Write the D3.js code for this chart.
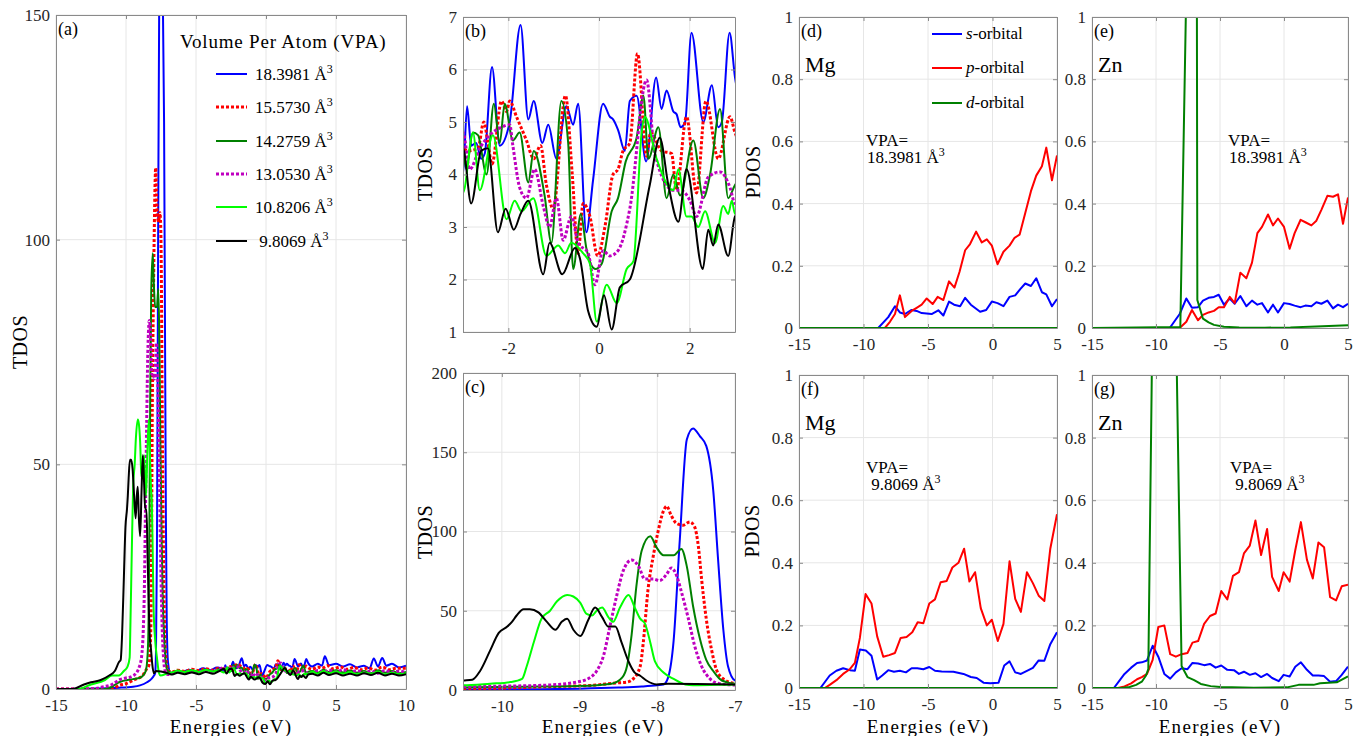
<!DOCTYPE html>
<html>
<head>
<meta charset="utf-8">
<script src="https://cdn.jsdelivr.net/npm/d3@7"></script>
<style>
  body { margin: 0; background: #fff; }
  svg text { font-family: "Liberation Serif", "Tinos", "Times New Roman", "DejaVu Serif", serif !important; white-space: pre; }
</style>
</head>
<body>
<script>
// ---------- Total DOS, one array of [energy (eV), TDOS] per volume per atom ----------
const tdos18 = [[-15,0],[-10.5,0.3],[-9.5,0.5],[-9,0.8],[-8.5,1.5],[-8.2,2.2],[-8,3],[-7.92,3.5],[-7.86,8],[-7.79,31],[-7.71,95],[-7.62,158],[-7.54,165],[-7.45,160],[-7.37,154],[-7.28,126],[-7.22,84],[-7.15,38],[-7.09,15],[-7.0,6],
  [-6.8,3.4],[-6.5,4.0],[-6.0,3.8],[-5.5,4.3],[-5.0,4.0],[-4.5,4.6],[-4.0,4.2],[-3.5,4.8],[-3.2,4.5],
  [-3,4.0],[-2.91,5.3],[-2.82,4.55],[-2.71,4.6],[-2.6,4.3],[-2.52,4.4],[-2.36,6.05],[-2.19,4.55],[-1.97,5.0],[-1.73,6.85],[-1.56,5.05],[-1.44,5.4],[-1.25,4.6],[-1.12,4.95],[-0.94,4.3],[-0.72,5.3],[-0.57,4.95],[-0.46,5.35],[-0.28,2.9],[-0.13,3.9],[0.09,5.35],[0.24,5.1],[0.31,5.05],[0.42,4.85],[0.57,4.45],[0.68,5.4],[0.83,5.5],[1.04,4.25],[1.26,5.85],[1.38,5.25],[1.49,5.6],[1.64,5.2],[1.71,5.15],[1.80,4.9],[1.9,5.0],[2.04,6.7],[2.30,5.0],[2.49,5.7],[2.63,4.9],[2.71,5.0],[2.88,6.7],[3.0,5.85],
  [3.3,5.0],[3.7,5.6],[4.0,5.2],[4.2,7.3],[4.5,5.3],[5.0,5.6],[5.5,5.0],[6.0,5.5],[6.5,4.8],[7.0,5.2],[7.4,4.6],[7.7,6.8],[8.0,5.0],[8.3,6.9],[8.6,5.2],[9.0,5.6],[9.5,4.8],[10,5.2]];

const tdos15 = [[-15,0],[-11,0],[-10.5,0.8],[-10,1.2],[-9.46,2],[-8.82,3],[-8.52,4.5],[-8.39,5],[-8.31,7],[-8.22,15],[-8.18,30],[-8.12,63],[-8.05,85],[-7.99,100],[-7.92,113],[-7.88,116],[-7.82,110],[-7.75,105],[-7.67,104],[-7.58,106],[-7.52,103],[-7.47,90],[-7.43,70],[-7.37,45],[-7.30,25],[-7.24,13],[-7.15,7],[-7.0,4.2],
  [-6.7,3.8],[-6.3,4.2],[-5.8,3.9],[-5.3,4.4],[-4.8,4.1],[-4.3,4.5],[-3.8,4.2],[-3.4,4.6],
  [-3,4.5],[-2.89,4.45],[-2.67,4.5],[-2.54,5.0],[-2.45,4.6],[-2.36,4.2],[-2.15,5.4],[-2.04,5.2],[-1.97,5.4],[-1.82,5.1],[-1.6,4.65],[-1.44,4.3],[-1.29,4.55],[-1.16,3.8],[-1.01,3.35],[-0.74,5.5],[-0.59,4.0],[-0.46,2.5],[-0.35,3.45],[-0.2,3.2],[-0.03,2.45],[0.13,3.0],[0.31,4.0],[0.42,4.1],[0.53,4.45],[0.68,4.6],[0.85,6.3],[1.05,4.35],[1.14,4.8],[1.38,4.45],[1.60,4.4],[1.71,3.7],[1.93,5.1],[2.15,3.65],[2.36,5.4],[2.63,4.3],[2.89,5.1],[3.0,4.8],
  [3.3,4.4],[3.7,4.9],[4.0,4.6],[4.4,5.2],[4.8,4.5],[5.3,4.9],[5.8,4.4],[6.3,4.8],[6.8,4.3],[7.3,4.7],[7.8,4.2],[8.3,4.9],[8.8,4.3],[9.3,4.6],[10,4.6]];

const tdos14 = [[-15,0],[-11.5,0],[-11,0.5],[-10.5,1.5],[-9.5,2.2],[-9,2.5],[-8.59,4],[-8.45,8],[-8.39,15],[-8.33,35],[-8.27,65],[-8.2,88],[-8.09,97],[-8.01,90],[-7.92,85],[-7.79,85],[-7.69,89],[-7.62,78],[-7.54,53],[-7.45,32],[-7.37,19],[-7.28,12],[-7.17,6],[-7.0,4],
  [-6.7,3.6],[-6.3,4.0],[-5.8,3.7],[-5.3,4.1],[-4.8,3.8],[-4.3,4.3],[-3.8,3.9],[-3.4,4.4],
  [-3,4.5],[-2.93,4.1],[-2.78,4.8],[-2.67,4.75],[-2.48,4.0],[-2.32,5.35],[-2.19,4.6],[-2.08,5.35],[-1.90,4.65],[-1.75,4.8],[-1.56,3.85],[-1.44,4.45],[-1.20,3.6],[-1.05,2.7],[-0.83,5.4],[-0.68,4.6],[-0.57,2.2],[-0.40,3.25],[-0.28,2.6],[-0.08,2.2],[0.06,2.3],[0.28,3.3],[0.42,3.55],[0.59,4.25],[0.83,4.7],[0.98,5.5],[1.09,4.3],[1.31,4.9],[1.49,3.55],[1.64,4.0],[1.79,3.6],[2.08,4.65],[2.30,3.55],[2.45,4.0],[2.67,5.25],[2.85,3.55],[3.0,3.8],
  [3.3,4.0],[3.7,3.6],[4.1,4.3],[4.5,3.8],[5.0,4.2],[5.5,3.7],[6.0,4.1],[6.5,3.6],[7.0,4.0],[7.5,3.5],[8.0,4.2],[8.5,3.6],[9.0,4.0],[9.5,3.5],[10,3.8]];

const tdos13 = [[-15,0],[-12.5,0],[-11.6,0.5],[-11,1],[-10.5,2],[-9.46,3],[-9.04,5],[-8.86,8],[-8.78,12],[-8.69,22],[-8.61,40],[-8.52,60],[-8.44,75],[-8.33,82],[-8.24,78],[-8.16,70],[-8.05,70],[-7.97,69],[-7.88,73],[-7.82,77],[-7.75,72],[-7.69,62],[-7.60,45],[-7.52,28],[-7.43,15],[-7.32,7],[-7.20,4],[-7.0,3.2],
  [-6.7,3.5],[-6.3,3.9],[-5.8,3.6],[-5.3,4.0],[-4.8,3.7],[-4.3,4.2],[-3.8,3.9],[-3.4,4.3],
  [-3,4.8],[-2.85,4.1],[-2.63,4.5],[-2.41,4.75],[-2.15,4.9],[-1.97,4.95],[-1.90,4.55],[-1.75,3.75],[-1.60,3.55],[-1.42,4.1],[-1.23,3.4],[-1.09,3.0],[-0.94,3.55],[-0.79,2.75],[-0.61,3.2],[-0.46,2.7],[-0.24,2.5],[-0.09,1.9],[0.09,2.55],[0.24,2.45],[0.42,2.55],[0.68,3.35],[1.05,5.8],[1.23,4.4],[1.64,3.7],[1.79,3.7],[2.01,3.5],[2.15,3.2],[2.41,3.95],[2.67,4.05],[2.89,3.75],[3.0,3.45],
  [3.3,3.6],[3.7,4.1],[4.1,3.7],[4.5,4.2],[5.0,3.8],[5.5,4.3],[6.0,3.7],[6.5,4.1],[7.0,3.6],[7.5,4.0],[8.0,3.5],[8.5,4.1],[9.0,3.7],[9.5,4.0],[10,3.6]];

const tdos10 = [[-15,0],[-13.5,0],[-12.5,1],[-11.5,2],[-11,3],[-10.5,3],[-10.15,4],[-9.89,5],[-9.74,7],[-9.68,15],[-9.59,30],[-9.49,45],[-9.38,50],[-9.29,56],[-9.16,60],[-9.08,59],[-8.99,55],[-8.91,48],[-8.84,47],[-8.78,50],[-8.71,52],[-8.63,46],[-8.57,43],[-8.48,52],[-8.37,60],[-8.29,52],[-8.22,45],[-8.16,42],[-8.09,30],[-8.03,18],[-7.92,11],[-7.79,7],[-7.64,3.5],[-7.54,3],[-7.0,3.5],
  [-6.7,3.7],[-6.3,4.1],[-5.8,3.8],[-5.3,4.2],[-4.8,3.8],[-4.3,4.3],[-3.8,3.9],[-3.4,4.2],
  [-3,3.65],[-2.78,4.8],[-2.63,3.7],[-2.34,4.75],[-2.04,3.15],[-1.86,3.5],[-1.71,3.3],[-1.45,3.55],[-1.16,2.45],[-0.90,2.65],[-0.75,2.5],[-0.61,2.7],[-0.35,2.5],[-0.20,2.3],[-0.05,1.2],[0.17,1.9],[0.39,1.55],[0.61,2.2],[0.76,2.35],[0.94,4.8],[1.01,5.1],[1.27,4.3],[1.64,3.7],[1.75,4.1],[1.93,3.2],[2.04,3.2],[2.19,3.0],[2.34,3.3],[2.56,2.7],[2.74,3.4],[2.85,3.25],[2.93,3.5],[3.0,3.25],
  [3.3,3.9],[3.7,3.4],[4.1,4.0],[4.5,3.5],[5.0,3.9],[5.5,3.4],[6.0,3.8],[6.5,3.3],[7.0,3.7],[7.5,3.4],[8.0,3.9],[8.5,3.2],[9.0,3.6],[9.5,3.3],[10,3.5]];

const tdos9 = [[-15,0],[-13.8,0],[-13,1],[-12.5,1.5],[-11.8,2],[-11.2,3],[-10.8,4],[-10.5,6],[-10.38,6.5],[-10.28,12],[-10.15,25],[-10.04,36],[-9.93,40],[-9.87,43],[-9.81,47],[-9.72,51],[-9.64,51],[-9.53,49],[-9.42,43],[-9.31,38],[-9.23,43],[-9.16,45],[-9.08,38],[-8.99,34],[-8.89,44],[-8.80,52],[-8.71,46],[-8.63,40],[-8.54,40],[-8.46,30],[-8.37,18],[-8.29,11],[-8.22,9],[-8.14,6],[-8.01,3.5],[-7.86,4],[-7.0,3.5],
  [-6.7,3.2],[-6.3,3.6],[-5.8,3.3],[-5.3,3.7],[-4.8,3.3],[-4.3,3.8],[-3.8,3.4],[-3.4,3.9],
  [-3,4.5],[-2.82,3.45],[-2.60,4.45],[-2.45,4.5],[-2.23,2.9],[-2.06,3.35],[-1.88,2.95],[-1.73,3.25],[-1.56,3.5],[-1.23,2.1],[-1.09,2.7],[-0.81,2.1],[-0.53,2.6],[-0.42,2.4],[-0.24,1.4],[-0.05,1.1],[0.11,1.7],[0.28,1.05],[0.46,1.85],[0.68,2.0],[1.12,3.8],[1.34,4.7],[1.53,3.8],[1.75,3.1],[1.93,4.1],[2.29,2.2],[2.41,2.95],[2.52,2.65],[2.63,3.05],[2.85,2.45],[3.0,3.2],
  [3.3,3.4],[3.7,3.0],[4.1,3.6],[4.5,3.1],[5.0,3.5],[5.5,3.0],[6.0,3.4],[6.5,3.0],[7.0,3.5],[7.5,3.1],[8.0,3.6],[8.5,3.0],[9.0,3.4],[9.5,3.0],[10,3.3]];

const vpaLabels = ["18.3981", "15.5730", "14.2759", "13.0530", "10.8206", " 9.8069"];
const vpaColors = ["#0000ff", "#ff0000", "#008000", "#bf00bf", "#00ff00", "#000000"];
const vpaDotted = [false, true, false, true, false, false];
const tdosSets  = [tdos18, tdos15, tdos14, tdos13, tdos10, tdos9];

// ---------- Projected DOS, [energy (eV), PDOS] ----------
const mgS18 = [[-15,0],[-8.86,0],[-8.08,0.035],[-7.56,0.07],[-7.18,0.05],[-6.79,0.045],[-6.27,0.058],[-5.88,0.055],[-5.49,0.048],[-4.72,0.045],[-4.2,0.057],[-3.81,0.04],[-3.37,0.085],[-2.98,0.075],[-2.51,0.07],[-2.12,0.097],[-1.68,0.075],[-0.96,0.052],[-0.49,0.058],[-0.05,0.085],[0.39,0.08],[0.85,0.07],[1.32,0.1],[1.76,0.105],[2.15,0.125],[2.54,0.143],[2.98,0.135],[3.39,0.16],[3.83,0.115],[4.17,0.108],[4.61,0.07],[5.0,0.093]];
const mgP18 = [[-15,0],[-8.34,0],[-7.95,0.02],[-7.56,0.045],[-7.18,0.105],[-6.79,0.035],[-6.27,0.055],[-5.88,0.065],[-5.49,0.075],[-5.10,0.095],[-4.64,0.077],[-4.25,0.1],[-3.81,0.09],[-3.37,0.15],[-2.95,0.13],[-2.56,0.18],[-2.12,0.25],[-1.74,0.27],[-1.27,0.31],[-0.83,0.275],[-0.44,0.285],[-0.05,0.265],[0.39,0.205],[0.85,0.245],[1.32,0.265],[1.71,0.29],[2.1,0.3],[2.54,0.37],[2.98,0.44],[3.39,0.49],[3.83,0.52],[4.17,0.58],[4.61,0.475],[5.0,0.555]];
const mgD18 = [[-15,0],[-10,0],[-5,0],[0,0],[5,0]];

const znS18 = [[-15,0],[-8.93,0],[-8.15,0.045],[-7.63,0.095],[-7.19,0.065],[-6.72,0.067],[-6.33,0.088],[-5.89,0.097],[-5.47,0.1],[-5.1,0.107],[-4.69,0.075],[-4.24,0.095],[-3.85,0.078],[-3.41,0.103],[-2.94,0.07],[-2.5,0.088],[-2.08,0.075],[-1.72,0.08],[-1.25,0.05],[-0.86,0.075],[-0.47,0.05],[0,0.08],[0.44,0.077],[0.83,0.072],[1.3,0.067],[1.67,0.072],[2.14,0.07],[2.53,0.083],[2.92,0.078],[3.39,0.088],[3.83,0.063],[4.22,0.075],[4.61,0.067],[5,0.078]];
const znP18 = [[-15,0],[-8.15,0],[-7.63,0.02],[-7.19,0.058],[-6.72,0.025],[-6.33,0.042],[-5.89,0.05],[-5.47,0.055],[-5.1,0.067],[-4.69,0.067],[-4.24,0.1],[-3.85,0.08],[-3.41,0.178],[-2.94,0.16],[-2.5,0.21],[-2.08,0.305],[-1.72,0.325],[-1.25,0.365],[-0.86,0.33],[-0.47,0.352],[0,0.325],[0.44,0.255],[0.83,0.305],[1.3,0.348],[1.67,0.34],[2.14,0.33],[2.53,0.345],[2.92,0.38],[3.39,0.425],[3.83,0.422],[4.22,0.43],[4.61,0.335],[5,0.42]];
const znD18 = [[-15,0],[-8.1,0.003],[-7.65,1.05],[-7.2,6.2],[-6.85,2.2],[-6.77,0.09],[-6.33,0.03],[-5.89,0.018],[-5.47,0.01],[-4.69,0.004],[-3.5,0.002],[-1.5,0.001],[0.5,0.002],[2.5,0.005],[4,0.007],[5,0.009]];

const mgS9 = [[-15,0],[-13.34,0],[-12.62,0.04],[-12.1,0.055],[-11.58,0.063],[-11.06,0.057],[-10.67,0.055],[-10.28,0.123],[-9.82,0.12],[-9.38,0.103],[-8.94,0.027],[-8.55,0.04],[-8.08,0.057],[-7.64,0.052],[-7.18,0.055],[-6.71,0.05],[-6.27,0.063],[-5.83,0.063],[-5.36,0.06],[-4.9,0.067],[-4.46,0.055],[-3.94,0.053],[-3.03,0.052],[-2.25,0.045],[-1.68,0.035],[-1.22,0.032],[-0.7,0.017],[-0.18,0.015],[0.47,0.017],[0.91,0.072],[1.32,0.085],[1.76,0.05],[2.2,0.045],[2.67,0.055],[3.13,0.064],[3.58,0.088],[4.02,0.087],[4.48,0.14],[5,0.178]];
const mgP9 = [[-15,0],[-13,0],[-12.62,0.01],[-12.1,0.025],[-11.58,0.045],[-11.06,0.06],[-10.67,0.08],[-10.28,0.16],[-9.84,0.3],[-9.38,0.27],[-8.94,0.165],[-8.47,0.1],[-8.01,0.105],[-7.56,0.112],[-7.12,0.16],[-6.66,0.163],[-6.22,0.178],[-5.8,0.21],[-5.36,0.207],[-4.9,0.27],[-4.46,0.283],[-4.02,0.338],[-3.55,0.342],[-3.11,0.385],[-2.64,0.4],[-2.2,0.445],[-1.79,0.34],[-1.35,0.37],[-0.91,0.255],[-0.44,0.2],[-0.05,0.218],[0.41,0.15],[0.85,0.205],[1.32,0.405],[1.76,0.285],[2.2,0.243],[2.67,0.37],[3.13,0.335],[3.58,0.295],[4.02,0.278],[4.48,0.445],[5,0.555]];
const mgD9 = [[-15,0],[-10,0],[-5,0],[0,0],[5,0]];

const znS9 = [[-15,0],[-13.29,0],[-12.46,0.045],[-11.94,0.065],[-11.48,0.08],[-11.11,0.082],[-10.7,0.088],[-10.26,0.135],[-9.82,0.1],[-9.35,0.045],[-8.89,0.03],[-8.45,0.05],[-8.0,0.063],[-7.54,0.06],[-7.15,0.08],[-6.71,0.078],[-6.24,0.073],[-5.78,0.077],[-5.34,0.065],[-4.9,0.072],[-4.43,0.058],[-3.91,0.057],[-3.52,0.045],[-3.13,0.052],[-2.67,0.042],[-2.23,0.047],[-1.79,0.035],[-1.32,0.045],[-0.93,0.032],[-0.41,0.022],[-0.03,0.042],[0.44,0.037],[0.88,0.068],[1.32,0.082],[1.79,0.058],[2.25,0.04],[2.69,0.04],[3.13,0.038],[3.6,0.02],[4.07,0.022],[4.51,0.042],[5,0.068]];
const znP9 = [[-15,0],[-12.98,0],[-12.46,0.005],[-11.94,0.015],[-11.48,0.028],[-11.11,0.035],[-10.7,0.045],[-10.26,0.09],[-9.82,0.195],[-9.35,0.2],[-8.89,0.108],[-8.45,0.1],[-8.0,0.108],[-7.54,0.112],[-7.15,0.145],[-6.71,0.15],[-6.24,0.205],[-5.78,0.23],[-5.34,0.238],[-4.9,0.31],[-4.43,0.283],[-3.99,0.358],[-3.52,0.37],[-3.13,0.43],[-2.67,0.455],[-2.23,0.535],[-1.79,0.425],[-1.32,0.508],[-0.93,0.355],[-0.41,0.31],[-0.03,0.37],[0.44,0.34],[0.88,0.44],[1.32,0.53],[1.79,0.41],[2.25,0.35],[2.69,0.465],[3.13,0.45],[3.6,0.29],[4.07,0.28],[4.51,0.325],[5,0.33]];
const znD9 = [[-15,0],[-12.72,0],[-12.07,0.003],[-11.55,0.01],[-11.11,0.02],[-10.78,0.04],[-10.6,0.06],[-10.3,1.1],[-9.85,5.5],[-9.4,7.5],[-8.9,5.0],[-8.45,1.2],[-8.0,0.07],[-7.54,0.035],[-7.02,0.025],[-6.5,0.013],[-5.73,0.006],[-4.95,0.003],[-2.36,0.001],[0.23,0.002],[1.14,0.01],[2.31,0.01],[2.82,0.015],[4.12,0.018],[5,0.037]];

const orbitalNames  = ["s", "p", "d"];
const orbitalColors = ["#0000ff", "#ff0000", "#008000"];

// ---------- tick values ----------
const ticksA_x = [-15, -10, -5, 0, 5, 10];
const ticksA_y = [0, 50, 100, 150];
const ticksB_x = [-2, 0, 2];
const ticksB_y = [1, 2, 3, 4, 5, 6, 7];
const ticksC_x = [-10, -9, -8, -7];
const ticksC_y = [0, 50, 100, 150, 200];
const ticksP_x = [-15, -10, -5, 0, 5];
const ticksP_y = [0, 0.2, 0.4, 0.6, 0.8, 1];

// ---------- drawing ----------
const SERIF = '"Liberation Serif", "Tinos", "Times New Roman", "DejaVu Serif", serif';
const svg = d3.select("body").append("svg").attr("width", 1367).attr("height", 736)
  .attr("font-family", SERIF);
const defs = svg.append("defs");
const FRAME = "#8a8a8a", GRID = "#e6e6e6", TICKTXT = "#262626";

function panel(p) {
  const x = d3.scaleLinear().domain(p.xDomain).range([p.left, p.right]);
  const y = d3.scaleLinear().domain(p.yDomain).range([p.bottom, p.top]);
  const g = svg.append("g");

  // grid
  g.append("g").selectAll("line").data(p.xTicks).join("line")
    .attr("x1", d => x(d)).attr("x2", d => x(d)).attr("y1", p.top).attr("y2", p.bottom)
    .attr("stroke", GRID).attr("stroke-width", 1);
  g.append("g").selectAll("line").data(p.yTicks).join("line")
    .attr("y1", d => y(d)).attr("y2", d => y(d)).attr("x1", p.left).attr("x2", p.right)
    .attr("stroke", GRID).attr("stroke-width", 1);

  // data, clipped to the axes box
  defs.append("clipPath").attr("id", "clip-" + p.id).append("rect")
    .attr("x", p.left).attr("y", p.top).attr("width", p.right - p.left).attr("height", p.bottom - p.top);
  const lg = g.append("g").attr("clip-path", `url(#clip-${p.id})`);
  const line = d3.line().x(d => x(d[0])).y(d => y(d[1])).curve(p.curve);
  p.series.forEach(s => {
    lg.append("path").datum(s.data)
      .attr("d", line).attr("fill", "none")
      .attr("stroke", s.color)
      .attr("stroke-width", s.dotted ? 3 : (s.width || 2))
      .attr("stroke-dasharray", s.dotted ? "3,2" : null)
      .attr("stroke-linejoin", "round");
  });

  // axes box with inward ticks
  const fmt = d => String(d);
  const none = () => "";
  const styleAxis = sel => {
    sel.attr("font-family", SERIF).attr("font-size", 17);
    sel.selectAll(".domain").attr("stroke", FRAME);
    sel.selectAll(".tick line").attr("stroke", FRAME);
    sel.selectAll(".tick text").attr("fill", TICKTXT);
  };
  g.append("g").attr("transform", `translate(0,${p.bottom})`)
    .call(d3.axisBottom(x).tickValues(p.xTicks).tickSize(-4).tickSizeOuter(0).tickPadding(10).tickFormat(fmt)).call(styleAxis);
  g.append("g").attr("transform", `translate(0,${p.top})`)
    .call(d3.axisTop(x).tickValues(p.xTicks).tickSize(-4).tickSizeOuter(0).tickFormat(none)).call(styleAxis);
  g.append("g").attr("transform", `translate(${p.left},0)`)
    .call(d3.axisLeft(y).tickValues(p.yTicks).tickSize(-4).tickSizeOuter(0).tickPadding(6).tickFormat(fmt)).call(styleAxis);
  g.append("g").attr("transform", `translate(${p.right},0)`)
    .call(d3.axisRight(y).tickValues(p.yTicks).tickSize(-4).tickSizeOuter(0).tickFormat(none)).call(styleAxis);

  // panel tag
  svg.append("text").attr("x", p.left + 2).attr("y", p.top + 20)
    .attr("font-size", 18).text(p.tag);
  return { x, y };
}

function xLabel(cx, cy, txt) {
  svg.append("text").attr("x", cx).attr("y", cy).attr("text-anchor", "middle")
    .attr("font-size", 19).attr("letter-spacing", 1.3).text(txt);
}
function yLabel(cx, cy, txt) {
  svg.append("text").attr("transform", `translate(${cx},${cy}) rotate(-90)`)
    .attr("text-anchor", "middle").attr("dominant-baseline", "central")
    .attr("font-size", 20).attr("letter-spacing", 0.5).text(txt);
}
function vpaText(x, y, val) {
  svg.append("text").attr("x", x).attr("y", y).attr("font-size", 17).text("VPA=");
  const t = svg.append("text").attr("x", x + 1).attr("y", y + 17).attr("font-size", 17).text(val + " Å");
  t.append("tspan").attr("dy", -7).attr("font-size", 12).text("3");
}

const tdosSeries = () => tdosSets.map((d, i) => ({ data: d, color: vpaColors[i], dotted: vpaDotted[i] }));

// (a) full TDOS
panel({ id: "a", tag: "(a)", left: 56, right: 406, top: 15, bottom: 689,
  xDomain: [-15, 10], yDomain: [0, 150], xTicks: ticksA_x, yTicks: ticksA_y,
  curve: d3.curveMonotoneX, series: tdosSeries() });
xLabel(231, 733, "Energies (eV)");
yLabel(20, 342, "TDOS");

// (b) TDOS near the Fermi level
panel({ id: "b", tag: "(b)", left: 463, right: 735, top: 17, bottom: 332,
  xDomain: [-3, 3], yDomain: [1, 7], xTicks: ticksB_x, yTicks: ticksB_y,
  curve: d3.curveMonotoneX, series: tdosSeries() });
yLabel(425, 174, "TDOS");

// (c) TDOS of the d-band region
panel({ id: "c", tag: "(c)", left: 463, right: 735, top: 373, bottom: 690,
  xDomain: [-10.5, -7], yDomain: [0, 200], xTicks: ticksC_x, yTicks: ticksC_y,
  curve: d3.curveMonotoneX, series: tdosSeries() });
xLabel(603, 733, "Energies (eV)");
yLabel(425, 532, "TDOS");

// legend of (a)
svg.append("text").attr("x", 180).attr("y", 48).attr("font-size", 19)
  .attr("letter-spacing", 0.8).text("Volume Per Atom (VPA)");
const legRows = [74, 107, 141, 174, 207, 241];
vpaLabels.forEach((lab, i) => {
  svg.append("line").attr("x1", 216).attr("x2", 247).attr("y1", legRows[i]).attr("y2", legRows[i])
    .attr("stroke", vpaColors[i]).attr("stroke-width", vpaDotted[i] ? 3 : 2)
    .attr("stroke-dasharray", vpaDotted[i] ? "3,2" : null);
  const t = svg.append("text").attr("x", 255).attr("y", legRows[i] + 6).attr("font-size", 17).text(lab + " Å");
  t.append("tspan").attr("dy", -7).attr("font-size", 12).text("3");
});

// PDOS panels
const pdosPanels = [
  { id: "d", tag: "(d)", atom: "Mg", vpa: "18.3981", left: 799, right: 1057, top: 17, bottom: 328, sets: [mgS18, mgP18, mgD18], vx: 866 },
  { id: "e", tag: "(e)", atom: "Zn", vpa: "18.3981", left: 1092, right: 1348, top: 17, bottom: 328, sets: [znS18, znP18, znD18], vx: 1228 },
  { id: "f", tag: "(f)", atom: "Mg", vpa: " 9.8069", left: 799, right: 1057, top: 375, bottom: 688, sets: [mgS9, mgP9, mgD9], vx: 866 },
  { id: "g", tag: "(g)", atom: "Zn", vpa: " 9.8069", left: 1092, right: 1348, top: 375, bottom: 688, sets: [znS9, znP9, znD9], vx: 1230 }
];
pdosPanels.forEach(q => {
  panel({ id: q.id, tag: q.tag, left: q.left, right: q.right, top: q.top, bottom: q.bottom,
    xDomain: [-15, 5], yDomain: [0, 1], xTicks: ticksP_x, yTicks: ticksP_y,
    curve: d3.curveLinear,
    series: q.sets.map((d, i) => ({ data: d, color: orbitalColors[i], width: 2 })) });
  svg.append("text").attr("x", q.left + 6).attr("y", q.top + 55).attr("font-size", 22).text(q.atom);
  const top = q.top < 100;
  vpaText(q.vx, top ? 146 : 473, q.vpa);
});
yLabel(753, 172, "PDOS");
yLabel(752, 531, "PDOS");
xLabel(928, 733, "Energies (eV)");
xLabel(1220, 733, "Energies (eV)");

// orbital legend in (d)
[34, 68, 103].forEach((ry, i) => {
  svg.append("line").attr("x1", 932).attr("x2", 962).attr("y1", ry).attr("y2", ry)
    .attr("stroke", orbitalColors[i]).attr("stroke-width", 2);
  const t = svg.append("text").attr("x", 966).attr("y", ry + 5).attr("font-size", 17);
  t.append("tspan").attr("font-style", "italic").text(orbitalNames[i]);
  t.append("tspan").text("-orbital");
});
</script>
</body>
</html>
